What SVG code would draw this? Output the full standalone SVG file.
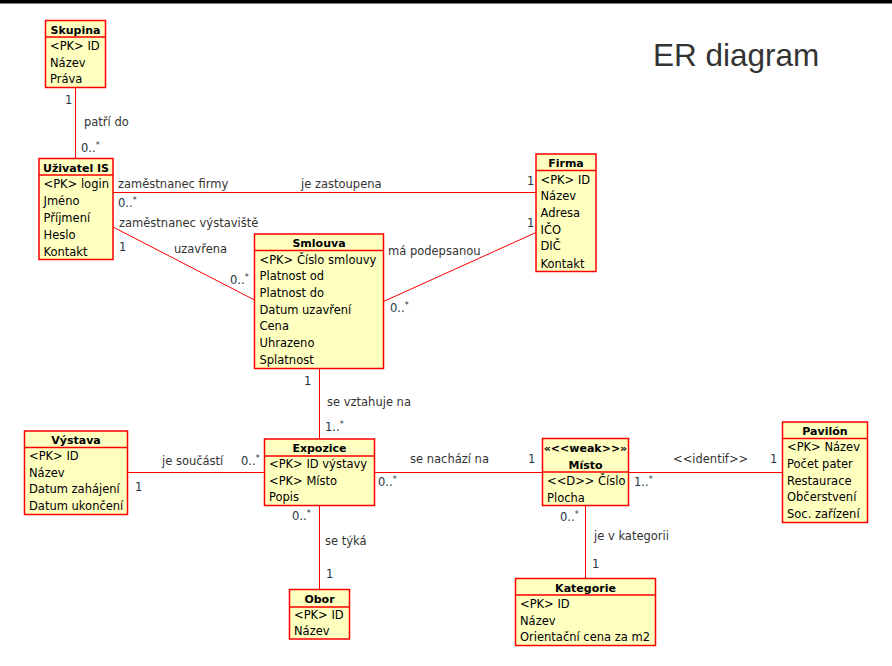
<svg xmlns="http://www.w3.org/2000/svg" width="892" height="666" viewBox="0 0 892 666">
<style>
.box{fill:#ffffc0;stroke:#ff0000;stroke-width:1.5}
.sep{stroke:#ff0000;stroke-width:1.5}
.conn{fill:none;stroke:#ff0000;stroke-width:1}
.h{font-family:"DejaVu Sans",sans-serif;font-size:11px;font-weight:bold;fill:#000;text-anchor:middle}
.r{font-family:"DejaVu Sans",sans-serif;font-size:11.5px;fill:#000}
.lbl{font-family:"DejaVu Sans",sans-serif;font-size:11.5px;fill:#333}
.m{font-family:"DejaVu Sans",sans-serif;font-size:11.5px;fill:#223344}
.s{font-size:8px}
.title{font-family:"Liberation Sans",Arial,sans-serif;font-size:31.5px;fill:#333}
</style>
<rect x="0" y="0" width="892" height="666" fill="#fff"/>
<rect x="0" y="0" width="892" height="3.5" fill="#000"/>
<text class="title" x="653" y="66">ER diagram</text>

<g id="connectors">
<path class="conn" d="M75.5 87.5V158.5"/>
<path class="conn" d="M113 192.5H536"/>
<path class="conn" d="M113 227L254.5 300"/>
<path class="conn" d="M383.5 301.5L536 232.5"/>
<path class="conn" d="M319.5 368.5V439"/>
<path class="conn" d="M127.5 472.5H264.5"/>
<path class="conn" d="M319.5 505.5V589.5"/>
<path class="conn" d="M374.5 472.5H542.5"/>
<path class="conn" d="M628.5 472.5H782.5"/>
<path class="conn" d="M585.5 505.5V578.5"/>
</g>

<g id="labels">
<text class="m" x="65" y="104">1</text>
<text class="lbl" x="84" y="126">patří do</text>
<text class="m" x="81" y="152">0..<tspan class="s" dy="-4">*</tspan></text>
<text class="lbl" x="118" y="188">zaměstnanec firmy</text>
<text class="lbl" x="301" y="188">je zastoupena</text>
<text class="m" x="527" y="185">1</text>
<text class="m" x="118" y="207">0..<tspan class="s" dy="-4">*</tspan></text>
<text class="lbl" x="119" y="227">zaměstnanec výstaviště</text>
<text class="m" x="119" y="251">1</text>
<text class="lbl" x="174" y="253">uzavřena</text>
<text class="m" x="230" y="284">0..<tspan class="s" dy="-4">*</tspan></text>
<text class="lbl" x="388" y="255">má podepsanou</text>
<text class="m" x="527" y="227">1</text>
<text class="m" x="390" y="312">0..<tspan class="s" dy="-4">*</tspan></text>
<text class="m" x="304" y="385">1</text>
<text class="lbl" x="327" y="406">se vztahuje na</text>
<text class="m" x="325" y="431">1..<tspan class="s" dy="-4">*</tspan></text>
<text class="lbl" x="162" y="465">je součástí</text>
<text class="m" x="241" y="465">0..<tspan class="s" dy="-4">*</tspan></text>
<text class="m" x="135" y="491">1</text>
<text class="lbl" x="410" y="463">se nachází na</text>
<text class="m" x="378" y="486">0..<tspan class="s" dy="-4">*</tspan></text>
<text class="m" x="528" y="463">1</text>
<text class="lbl" x="673" y="463">&lt;&lt;identif&gt;&gt;</text>
<text class="m" x="770" y="463">1</text>
<text class="m" x="634" y="486">1..<tspan class="s" dy="-4">*</tspan></text>
<text class="m" x="292" y="520">0..<tspan class="s" dy="-4">*</tspan></text>
<text class="lbl" x="325" y="545">se týká</text>
<text class="m" x="326" y="578">1</text>
<text class="m" x="560" y="521">0..<tspan class="s" dy="-4">*</tspan></text>
<text class="lbl" x="594" y="540">je v kategorii</text>
<text class="m" x="592" y="568">1</text>
</g>

<g id="skupina">
<rect class="box" x="45.5" y="20.5" width="60" height="67"/>
<line class="sep" x1="45.5" y1="37" x2="105.5" y2="37"/>
<text class="h" x="75.5" y="34">Skupina</text>
<text class="r" x="50" y="50">&lt;PK&gt; ID</text>
<text class="r" x="50" y="66.5">Název</text>
<text class="r" x="50" y="83">Práva</text>
</g>

<g id="uzivatel">
<rect class="box" x="39" y="158.5" width="74" height="101"/>
<line class="sep" x1="39" y1="175" x2="113" y2="175"/>
<text class="h" x="76" y="172">Uživatel IS</text>
<text class="r" x="43.5" y="188">&lt;PK&gt; login</text>
<text class="r" x="43.5" y="205">Jméno</text>
<text class="r" x="43.5" y="222">Příjmení</text>
<text class="r" x="43.5" y="238.5">Heslo</text>
<text class="r" x="43.5" y="255.5">Kontakt</text>
</g>

<g id="firma">
<rect class="box" x="536" y="154" width="60" height="117.5"/>
<line class="sep" x1="536" y1="170.5" x2="596" y2="170.5"/>
<text class="h" x="566" y="167">Firma</text>
<text class="r" x="540.5" y="183.5">&lt;PK&gt; ID</text>
<text class="r" x="540.5" y="200">Název</text>
<text class="r" x="540.5" y="217">Adresa</text>
<text class="r" x="540.5" y="233.5">IČO</text>
<text class="r" x="540.5" y="250">DIČ</text>
<text class="r" x="540.5" y="267.5">Kontakt</text>
</g>

<g id="smlouva">
<rect class="box" x="254.5" y="234" width="129" height="134.5"/>
<line class="sep" x1="254.5" y1="250.5" x2="383.5" y2="250.5"/>
<text class="h" x="319" y="247">Smlouva</text>
<text class="r" x="259.5" y="263.5">&lt;PK&gt; Číslo smlouvy</text>
<text class="r" x="259.5" y="280">Platnost od</text>
<text class="r" x="259.5" y="297">Platnost do</text>
<text class="r" x="259.5" y="313.5">Datum uzavření</text>
<text class="r" x="259.5" y="330">Cena</text>
<text class="r" x="259.5" y="347">Uhrazeno</text>
<text class="r" x="259.5" y="363.5">Splatnost</text>
</g>

<g id="vystava">
<rect class="box" x="24.5" y="431" width="103" height="83.5"/>
<line class="sep" x1="24.5" y1="447.5" x2="127.5" y2="447.5"/>
<text class="h" x="76" y="444">Výstava</text>
<text class="r" x="29" y="460">&lt;PK&gt; ID</text>
<text class="r" x="29" y="476.5">Název</text>
<text class="r" x="29" y="493">Datum zahájení</text>
<text class="r" x="29" y="510">Datum ukončení</text>
</g>

<g id="expozice">
<rect class="box" x="264.5" y="439" width="110" height="66.5"/>
<line class="sep" x1="264.5" y1="456" x2="374.5" y2="456"/>
<text class="h" x="319.5" y="452">Expozice</text>
<text class="r" x="269" y="468">&lt;PK&gt; ID výstavy</text>
<text class="r" x="269" y="484.5">&lt;PK&gt; Místo</text>
<text class="r" x="269" y="501">Popis</text>
</g>

<g id="misto">
<rect class="box" x="542.5" y="438.5" width="86" height="67"/>
<line class="sep" x1="542.5" y1="472" x2="628.5" y2="472"/>
<text class="h" x="585.5" y="452">«&lt;&lt;weak&gt;&gt;»</text>
<text class="h" x="585.5" y="468.5">Místo</text>
<text class="r" x="547" y="484.5">&lt;&lt;D&gt;&gt; Číslo</text>
<text class="r" x="547" y="501.5">Plocha</text>
</g>

<g id="pavilon">
<rect class="box" x="782.5" y="422" width="85" height="100.5"/>
<line class="sep" x1="782.5" y1="438.5" x2="867.5" y2="438.5"/>
<text class="h" x="825" y="434.5">Pavilón</text>
<text class="r" x="787" y="451">&lt;PK&gt; Název</text>
<text class="r" x="787" y="468">Počet pater</text>
<text class="r" x="787" y="484.5">Restaurace</text>
<text class="r" x="787" y="501">Občerstvení</text>
<text class="r" x="787" y="518">Soc. zařízení</text>
</g>

<g id="obor">
<rect class="box" x="289.5" y="589.5" width="60" height="49.5"/>
<line class="sep" x1="289.5" y1="607" x2="349.5" y2="607"/>
<text class="h" x="319.5" y="603">Obor</text>
<text class="r" x="294" y="618.5">&lt;PK&gt; ID</text>
<text class="r" x="294" y="635">Název</text>
</g>

<g id="kategorie">
<rect class="box" x="515.5" y="578.5" width="140" height="67"/>
<line class="sep" x1="515.5" y1="595" x2="655.5" y2="595"/>
<text class="h" x="585.5" y="592">Kategorie</text>
<text class="r" x="520" y="608">&lt;PK&gt; ID</text>
<text class="r" x="520" y="624.5">Název</text>
<text class="r" x="520" y="641">Orientační cena za m2</text>
</g>
</svg>
